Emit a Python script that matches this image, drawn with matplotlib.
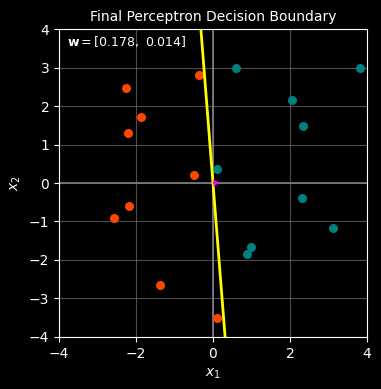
import numpy as np
import matplotlib.pyplot as plt

plt.style.use('dark_background')

# class -1 (orange)
neg_x1 = [-0.36, -2.26, -1.87, -2.21, -0.49, -2.18, -2.57, -1.38, 0.10]
neg_x2 = [2.80, 2.46, 1.71, 1.29, 0.20, -0.61, -0.92, -2.65, -3.52]
# class +1 (teal)
pos_x1 = [0.60, 3.82, 2.05, 2.34, 0.10, 2.31, 3.12, 0.98, 0.88]
pos_x2 = [2.98, 2.98, 2.15, 1.47, 0.355, -0.40, -1.18, -1.67, -1.85]

w = [0.178, 0.014]

fig = plt.figure(figsize=(3.81, 3.89), dpi=100)
ax = fig.add_axes([0.155, 0.134, 0.808, 0.791])

ax.grid(True, color='gray', alpha=0.6, linewidth=0.8)
ax.axhline(0, color='gray', linewidth=1.2)
ax.axvline(0, color='gray', linewidth=1.2)

ax.scatter(neg_x1, neg_x2, s=30, color='orangered', zorder=3)
ax.scatter(pos_x1, pos_x2, s=30, color='teal', zorder=3)

# decision boundary w . x = 0
yy = np.array([-4.5, 4.5])
xx = -w[1] / w[0] * yy
ax.plot(xx, yy, color='yellow', linewidth=2, zorder=4)

ax.quiver(0, 0, w[0], w[1], angles='xy', scale_units='xy', scale=1,
          color='magenta', width=0.015, headwidth=2.5, headlength=2.5,
          headaxislength=2.2, zorder=5)

ax.text(-3.8, 3.55, r'$\mathbf{w} = [0.178,\ 0.014]$', color='white', fontsize=9)

ax.set_xlim(-4, 4)
ax.set_ylim(-4, 4)
ax.set_xticks([-4, -2, 0, 2, 4])
ax.set_yticks([-4, -3, -2, -1, 0, 1, 2, 3, 4])
ax.set_xlabel('$x_1$')
ax.set_ylabel('$x_2$')
ax.set_title('Final Perceptron Decision Boundary', fontsize=10)

fig.savefig('out.png', dpi=100)
